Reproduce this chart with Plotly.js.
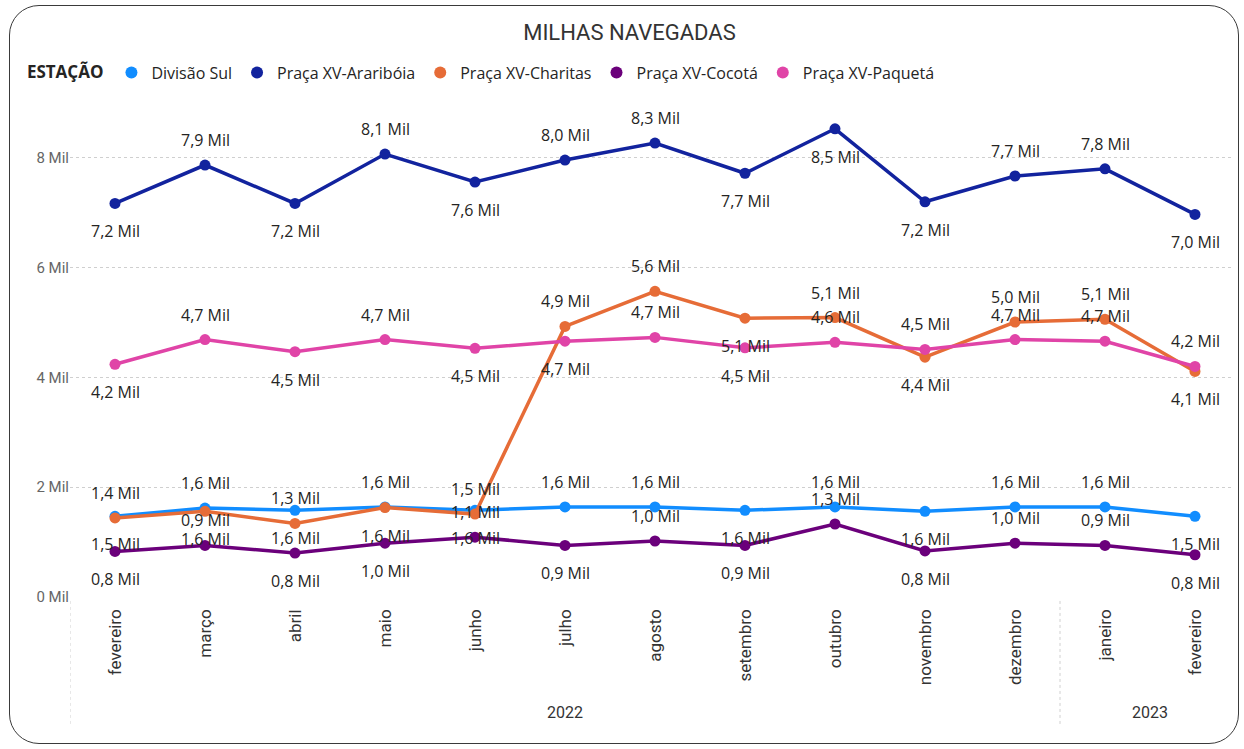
<!DOCTYPE html>
<html><head><meta charset="utf-8">
<script src="https://cdn.plot.ly/plotly-3.0.1.min.js"></script>
<style>
html,body{margin:0;padding:0;background:#fff;}
#card{position:absolute;left:9px;top:5px;width:1230px;height:739px;border:1.5px solid #3a3a3a;border-radius:30px;box-sizing:border-box;}
#chart{position:absolute;left:0;top:0;width:1244px;height:749px;}
</style></head>
<body>
<div id="card"></div>
<div id="chart"></div>
<script>
// ---- data ----
const months = ['fevereiro','março','abril','maio','junho','julho','agosto','setembro','outubro','novembro','dezembro','janeiro','fevereiro'];
const years  = ['2022','2022','2022','2022','2022','2022','2022','2022','2022','2022','2022','2023','2023'];
const seriesNames = ['Divisão Sul','Praça XV-Araribóia','Praça XV-Charitas','Praça XV-Cocotá','Praça XV-Paquetá'];
const divisaoSul = [1470,1620,1580,1640,1580,1640,1640,1580,1640,1560,1640,1640,1470];
const arariboia  = [7170,7870,7170,8070,7560,7960,8270,7720,8530,7200,7670,7800,6970];
const charitas   = [1440,1560,1340,1630,1510,4930,5570,5080,5090,4370,5010,5060,4110];
const cocota     = [830,940,800,980,1090,940,1020,940,1330,840,980,940,770];
const paqueta    = [4240,4690,4470,4690,4530,4660,4730,4540,4640,4510,4690,4660,4200];
const yTickVals  = [0,2000,4000,6000,8000];
const yTickText  = ['0 Mil','2 Mil','4 Mil','6 Mil','8 Mil'];

// ---- styling ----
const colors = ['#118DFF','#12239E','#E66C37','#6B007B','#E044A7'];
// label placement (above / below the point), mimicking the original
const place = [
  'BTBTBTTBTBTTB',
  'BTBTBTTBBBTTB',
  'TBTBTTTBTBTTB',
  'BTBBTBTBTBTTB',
  'BTBTBBTBTTTTT'
];
const allSeries = [divisaoSul, arariboia, charitas, cocota, paqueta];
const xIdx = months.map((m,i)=>i);
const fmt = v => (v/1000).toFixed(1).replace('.',',') + ' Mil';

const traces = allSeries.map((s,k)=>({
  type:'scatter', mode:'lines+markers', name:seriesNames[k],
  x:xIdx, y:s,
  line:{color:colors[k], width:3.5},
  marker:{color:colors[k], size:11},
  showlegend:false, hoverinfo:'x+y'
}));
// legend entries (dot only)
seriesNames.forEach((n,k)=>traces.push({
  type:'scatter', mode:'markers', name:n, x:[null], y:[null],
  marker:{color:colors[k], size:12}, showlegend:true
}));

const LABEL_FONT = {family:'Open Sans, Noto Sans, sans-serif', size:16, color:'#252423'};
const annotations = [];
allSeries.forEach((s,k)=>{
  s.forEach((v,i)=>{
    annotations.push({xref:'x', yref:'y', x:i, y:v, text:fmt(v), showarrow:false,
      yshift: place[k][i]==='T' ? 25 : -28, font:LABEL_FONT});
  });
});
// year group labels and dividers
const shapes = [];
const groups = [];
years.forEach((y,i)=>{
  if(!groups.length || groups[groups.length-1].y!==y) groups.push({y:y, a:i, b:i});
  else groups[groups.length-1].b = i;
});
groups.forEach((g)=>{
  annotations.push({xref:'x', yref:'paper', x:(g.a+g.b)/2, y:-0.233, yanchor:'middle',
    text:g.y, showarrow:false, font:{family:'Roboto, sans-serif', size:16, color:'#333'}});
  shapes.push({type:'line', xref:'x', yref:'paper', x0:g.a-0.5, x1:g.a-0.5, y0:-0.008, y1:-0.26,
    line:{color:'#d0d0d0', width:1, dash:'dot'}});
});

const layout = {
  width:1244, height:749,
  paper_bgcolor:'rgba(0,0,0,0)', plot_bgcolor:'rgba(0,0,0,0)',
  margin:{l:70, r:13, t:103, b:152},
  title:{text:'MILHAS NAVEGADAS', x:0.506, xref:'container', y:0.957, yref:'container', yanchor:'middle',
    font:{family:'Roboto, sans-serif', size:22, color:'#333'}},
  showlegend:true,
  legend:{orientation:'h', x:0.02, xref:'container', y:0.903, yref:'container', yanchor:'middle', xanchor:'left',
    title:{text:'<b>ESTAÇÃO</b>', font:{family:'Open Sans, sans-serif', size:17, color:'#252423'}},
    font:{family:'Open Sans, sans-serif', size:16, color:'#252423'},
    itemwidth:30, tracegroupgap:0, bgcolor:'rgba(0,0,0,0)'},
  xaxis:{range:[-0.5,12.4], tickmode:'array', tickvals:xIdx, ticktext:months, tickangle:-90,
    showgrid:false, zeroline:false, showline:false, ticks:'', ticklabelstandoff:8,
    tickfont:{family:'Roboto, sans-serif', size:17, color:'#333'}},
  yaxis:{range:[0,9000], tickmode:'array', tickvals:yTickVals, ticktext:yTickText,
    showgrid:true, gridcolor:'#cfcfcf', griddash:'dot', gridwidth:1, zeroline:false, showline:false, ticks:'',
    tickfont:{family:'Roboto, sans-serif', size:15, color:'#666'}},
  annotations:annotations, shapes:shapes,
  font:{family:'Open Sans, sans-serif'}
};
Plotly.newPlot('chart', traces, layout, {displayModeBar:false, staticPlot:true});
</script>
</body></html>
